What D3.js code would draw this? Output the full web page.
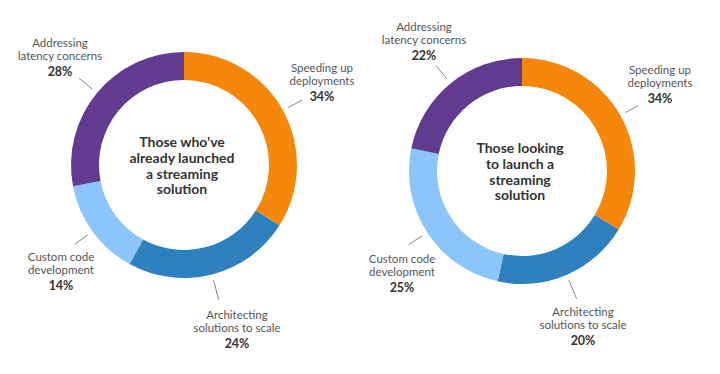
<!DOCTYPE html>
<html>
<head>
<meta charset="utf-8">
<script src="https://cdn.jsdelivr.net/npm/d3@7"></script>
<style>
  body { margin: 0; background: #fff; }
  svg { display: block; font-family: Lato, "Open Sans", sans-serif; }
  .lbl { fill: #555; font-size: 11.5px; }
  .pct { fill: #333; font-size: 12.5px; font-weight: bold; }
  .title { fill: #333; font-size: 14px; font-weight: bold; }
</style>
</head>
<body>
<svg width="720" height="374"></svg>
<script>
// data
var categories = ["Speeding up deployments", "Architecting solutions to scale", "Custom code development", "Addressing latency concerns"];
var launchedValues = [34, 24, 14, 28];
var lookingValues = [34, 20, 25, 22];
var titles = [
	["Those who\u2019ve", "already launched", "a streaming", "solution"],
	["Those looking", "to launch a", "streaming", "solution"]
];
var labelLines = [
	["Speeding up", "deployments"],
	["Architecting", "solutions to scale"],
	["Custom code", "development"],
	["Addressing", "latency concerns"]
];

var colors = d3.scaleOrdinal().domain(categories).range(["#f5880a", "#2e81be", "#8bc5fb", "#613b8f"]);

var outer = 113, inner = 85;

// label placement (offset from donut centre to first line of label)
var layouts = [
	{cx: 184, cy: 165, labels: [[138, -97], [53, 150], [-123, 92], [-124, -122]], lead: [16, 20, 16, 17]},
	{cx: 522, cy: 171, labels: [[138, -101], [61, 141], [-120, 88], [-98, -144]], lead: [14, 20, 16, 17]}
];

var pie = d3.pie().sort(null).value(function(d) { return d; });
var arc = d3.arc().innerRadius(inner).outerRadius(outer);

var svg = d3.select("svg");

function drawDonut(values, title, lay) {
	var g = svg.append("g").attr("transform", "translate(" + lay.cx + "," + lay.cy + ")");
	var slices = pie(values);

	g.selectAll("path.slice").data(slices).enter().append("path")
		.attr("class", "slice")
		.attr("d", arc)
		.attr("fill", function(d, i) { return colors(categories[i]); });

	// leader lines at the middle angle of each slice
	g.selectAll("line.lead").data(slices).enter().append("line")
		.attr("class", "lead")
		.attr("x1", function(d) { return Math.sin((d.startAngle + d.endAngle) / 2) * (outer + 6); })
		.attr("y1", function(d) { return -Math.cos((d.startAngle + d.endAngle) / 2) * (outer + 6); })
		.attr("x2", function(d, i) { return Math.sin((d.startAngle + d.endAngle) / 2) * (outer + 6 + lay.lead[i]); })
		.attr("y2", function(d, i) { return -Math.cos((d.startAngle + d.endAngle) / 2) * (outer + 6 + lay.lead[i]); })
		.attr("stroke", "#666")
		.attr("stroke-width", 0.8);

	var lbl = g.selectAll("g.label").data(slices).enter().append("g")
		.attr("class", "label")
		.attr("transform", function(d, i) { return "translate(" + lay.labels[i][0] + "," + lay.labels[i][1] + ")"; });
	lbl.each(function(d, i) {
		var t = d3.select(this);
		labelLines[i].forEach(function(s, j) {
			t.append("text").attr("class", "lbl").attr("text-anchor", "middle")
				.attr("y", j * 12.5).attr("dy", "0.35em").text(s);
		});
		t.append("text").attr("class", "pct").attr("text-anchor", "middle")
			.attr("y", 28.5).attr("dy", "0.35em").text(d.data + "%");
	});

	g.selectAll("text.title").data(title).enter().append("text")
		.attr("class", "title")
		.attr("text-anchor", "middle")
		.attr("x", -2)
		.attr("y", function(d, i) { return -23 + i * 15.8; })
		.attr("dy", "0.35em")
		.text(function(d) { return d; });
}

drawDonut(launchedValues, titles[0], layouts[0]);
drawDonut(lookingValues, titles[1], layouts[1]);
</script>
</body>
</html>
